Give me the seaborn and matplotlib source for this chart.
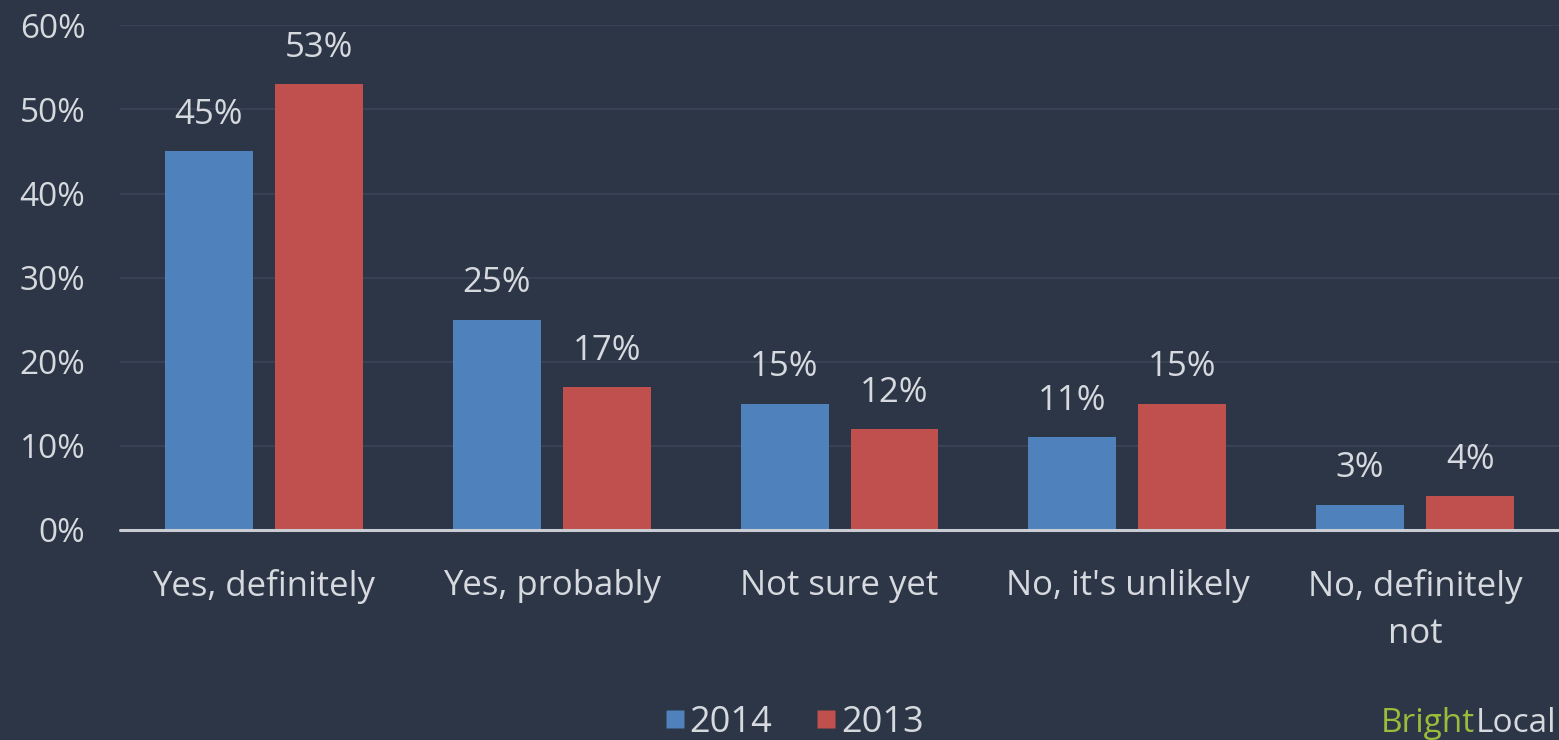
import matplotlib
matplotlib.use("Agg")
import matplotlib.pyplot as plt
import seaborn as sns
import pandas as pd
from matplotlib.lines import Line2D

categories = ["Yes, definitely", "Yes, probably", "Not sure yet", "No, it's unlikely", "No, definitely\nnot"]
series_names = ["2014", "2013"]
values_2014 = [45, 25, 15, 11, 3]
values_2013 = [53, 17, 12, 15, 4]
y_ticks = [0, 10, 20, 30, 40, 50, 60]

BG = "#2c3646"
TXT = "#d6d9de"
COLORS = ["#4f81bd", "#c0504d"]

df = pd.DataFrame({
    "category": categories * 2,
    "year": [series_names[0]] * len(categories) + [series_names[1]] * len(categories),
    "value": values_2014 + values_2013,
})

sns.set_theme(style="dark")
plt.rcParams["font.family"] = ["Open Sans", "DejaVu Sans"]

fig = plt.figure(figsize=(15.59, 7.40), dpi=100, facecolor=BG)
ax = fig.add_axes([0.077, 0.2838, 0.923, 0.682])
ax.set_facecolor(BG)

sns.barplot(data=df, x="category", y="value", hue="year", hue_order=series_names,
            palette=COLORS, width=0.764, gap=0.2, ax=ax, legend=False,
            saturation=1, edgecolor="none")

for cont in ax.containers:
    ax.bar_label(cont, labels=[f"{int(v)}%" for v in cont.datavalues],
                 padding=14, color=TXT, fontsize=25)

ax.set_xlim(-0.5, 4.5)
ax.set_ylim(0, 60)
ax.set_yticks(y_ticks)
ax.set_yticklabels([f"{t}%" for t in y_ticks])
ax.tick_params(axis="y", length=0, pad=25, labelsize=24, labelcolor=TXT)
ax.tick_params(axis="x", length=0, pad=28, labelsize=25, labelcolor=TXT)
ax.set_xlabel("")
ax.set_ylabel("")
for lab in ax.get_xticklabels():
    lab.set_linespacing(1.5)

ax.grid(axis="y", color="#3b4557", linewidth=1.2)
ax.grid(axis="x", visible=False)
for s in ax.spines.values():
    s.set_visible(False)
ax.axhline(0, color="#c9cdd3", linewidth=2.2, zorder=5, clip_on=False)

handles = [Line2D([], [], marker="s", linestyle="none", markersize=13,
                  markerfacecolor=c, markeredgecolor="none") for c in COLORS]
fig.legend(handles, series_names, loc="lower center", bbox_to_anchor=(0.508, -0.045),
           ncol=2, frameon=False, fontsize=26, labelcolor=TXT,
           handletextpad=0.0, columnspacing=1.1, handlelength=0.8)

# brand mark, bottom right
renderer = fig.canvas.get_renderer()
t_local = fig.text(0.998, 0.0, "Local", color=TXT, fontsize=24, ha="right", va="bottom")
bb = t_local.get_window_extent(renderer=renderer)
x_left = bb.x0 / fig.bbox.width
fig.text(x_left, 0.0, "Bright", color="#9bbb3a", fontsize=24, ha="right", va="bottom")

fig.savefig("out.png", dpi=100, facecolor=BG)
